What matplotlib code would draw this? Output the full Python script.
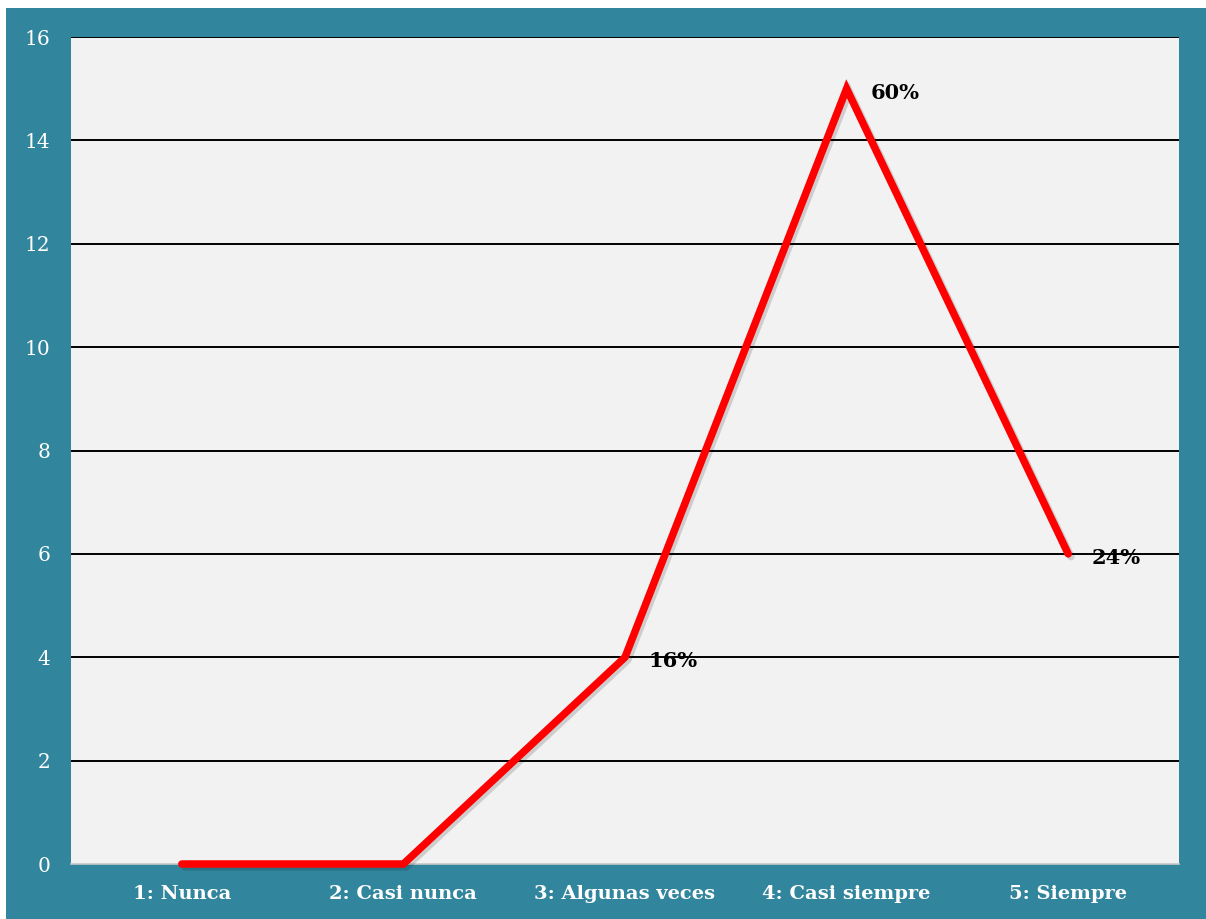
import matplotlib
matplotlib.use("Agg")
import matplotlib.pyplot as plt
import matplotlib.patheffects as pe
from matplotlib.patches import Rectangle

# survey answers: count per option, percent labels shown on the points
categories = ["1: Nunca", "2: Casi nunca", "3: Algunas veces", "4: Casi siempre", "5: Siempre"]
counts = [0, 0, 4, 15, 6]
point_labels = ["", "", "16%", "60%", "24%"]
y_ticks = [0, 2, 4, 6, 8, 10, 12, 14, 16]

teal = "#31859c"
panel = "#f2f2f2"
serif = ["DejaVu Serif"]

fig = plt.figure(figsize=(12.06, 9.19), dpi=100)
W, H = 1206, 919
# teal frame with a thin white margin on top/left
fig.patches.append(Rectangle((6 / W, 0), 1 - 6 / W, 1 - 8 / H,
                             transform=fig.transFigure, facecolor=teal,
                             edgecolor="none", zorder=-10))

ax = fig.add_axes([71 / W, 1 - 864 / H, (1179 - 71) / W, (864 - 37) / H])
ax.set_facecolor(panel)

x = list(range(len(categories)))
ax.plot(x, counts, color="#ff0000", lw=5.4, solid_capstyle="round",
        solid_joinstyle="miter", zorder=4, clip_on=False,
        path_effects=[pe.SimpleLineShadow(offset=(2, -2), shadow_color="#000000", alpha=0.15),
                      pe.Normal()])

for xi, yi, lab in zip(x, counts, point_labels):
    if lab:
        ax.annotate(lab, (xi, yi), xytext=(17, -3), textcoords="offset points",
                    ha="left", va="center", fontsize=15, fontweight="bold",
                    family=serif, color="black", zorder=5)

ax.set_xlim(-0.5, len(categories) - 0.5)
ax.set_ylim(0, 16)
ax.set_yticks(y_ticks)
ax.set_yticklabels([str(t) for t in y_ticks], color="white", fontsize=14.5, family=serif)
ax.set_xticks(x)
ax.set_xticklabels(categories, color="white", fontsize=14, fontweight="bold", family=serif)
ax.tick_params(axis="y", length=0, pad=15)
ax.tick_params(axis="x", length=0, pad=15)

for t in y_ticks[1:]:
    ax.axhline(t, color="black", lw=1.4, zorder=2)

for side in ["top", "right", "left"]:
    ax.spines[side].set_visible(False)
ax.spines["bottom"].set_color("#c8c8c8")
ax.spines["bottom"].set_linewidth(1.2)

fig.savefig("out.png", dpi=100, facecolor="white")
